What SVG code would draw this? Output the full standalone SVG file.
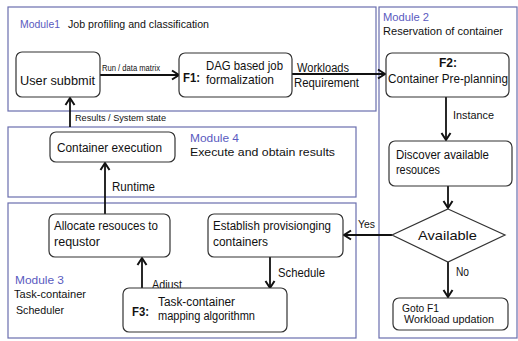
<svg xmlns="http://www.w3.org/2000/svg" width="518" height="341" viewBox="0 0 518 341">
<defs>
<marker id="arr" markerUnits="userSpaceOnUse" markerWidth="12" markerHeight="12" refX="9" refY="6" orient="auto">
<path d="M2,1.5 L9,6 L2,10.5" fill="none" stroke="#111" stroke-width="2"/>
</marker>
<style>
.mod{fill:none;stroke:#6a6eae;stroke-width:1.2}
.node{fill:#fff;stroke:#333;stroke-width:1.2}
.edge{fill:none;stroke:#111;stroke-width:1.8;marker-end:url(#arr)}
text{font-family:"Liberation Sans","DejaVu Sans",sans-serif;fill:#111}
.t{font-size:12px}
.tb{font-size:12px;font-weight:bold}
.lab{font-size:10px}
.sm{font-size:9px}
.ml{fill:#5a5ac0;font-size:11.5px}
.md{font-size:11.5px}
</style>
</defs>
<rect width="518" height="341" fill="#fff"/>
<g id="modules">
<rect id="module1" class="mod" x="8" y="7" width="368" height="104"/>
<rect id="module2" class="mod" x="379" y="7" width="138" height="331"/>
<rect id="module4" class="mod" x="8" y="127" width="348" height="70"/>
<rect id="module3" class="mod" x="8" y="203" width="348" height="135"/>
<text x="20" y="28" class="ml" textLength="40" lengthAdjust="spacingAndGlyphs">Module1</text>
<text x="68" y="28" class="md" textLength="141" lengthAdjust="spacingAndGlyphs">Job profiling and classification</text>
<text x="383" y="21" class="ml" textLength="46" lengthAdjust="spacingAndGlyphs">Module 2</text>
<text x="383" y="35" class="md" textLength="120" lengthAdjust="spacingAndGlyphs">Reservation of container</text>
<text x="190" y="142" class="ml" textLength="49" lengthAdjust="spacingAndGlyphs">Module 4</text>
<text x="190" y="156" class="md" textLength="145" lengthAdjust="spacingAndGlyphs">Execute and obtain results</text>
<text x="15" y="284" class="ml" textLength="49" lengthAdjust="spacingAndGlyphs">Module 3</text>
<text x="14" y="298" class="md" textLength="72" lengthAdjust="spacingAndGlyphs">Task-container</text>
<text x="16" y="314" class="md" textLength="48" lengthAdjust="spacingAndGlyphs">Scheduler</text>
</g>
<g id="connectors">
<line class="edge" x1="100" y1="75" x2="179" y2="75"/>
<line class="edge" x1="292" y1="74" x2="385" y2="74"/>
<line class="edge" x1="446" y1="97" x2="446" y2="140"/>
<line class="edge" x1="448" y1="186" x2="448" y2="208"/>
<line class="edge" x1="392" y1="235" x2="344" y2="235"/>
<line class="edge" x1="448" y1="262" x2="448" y2="297"/>
<line class="edge" x1="270" y1="257" x2="270" y2="288"/>
<line class="edge" x1="142" y1="288" x2="142" y2="258"/>
<line class="edge" x1="105" y1="214" x2="105" y2="163"/>
<line class="edge" x1="70" y1="127" x2="70" y2="98"/>
<text x="102" y="71" class="sm" textLength="58" lengthAdjust="spacingAndGlyphs">Run / data matrix</text>
<text x="297" y="72" class="t" textLength="52" lengthAdjust="spacingAndGlyphs">Workloads</text>
<text x="294" y="87" class="t" textLength="65" lengthAdjust="spacingAndGlyphs">Requirement</text>
<text x="453" y="119" class="lab" textLength="41" lengthAdjust="spacingAndGlyphs">Instance</text>
<text x="358" y="228" class="lab" textLength="17" lengthAdjust="spacingAndGlyphs">Yes</text>
<text x="456" y="276" class="t" textLength="13" lengthAdjust="spacingAndGlyphs">No</text>
<text x="278" y="277" class="t" textLength="47" lengthAdjust="spacingAndGlyphs">Schedule</text>
<text x="152" y="289" class="t" textLength="30" lengthAdjust="spacingAndGlyphs">Adjust</text>
<text x="112" y="191" class="t" textLength="43" lengthAdjust="spacingAndGlyphs">Runtime</text>
<text x="75" y="121" class="sm" textLength="91" lengthAdjust="spacingAndGlyphs">Results / System state</text>
</g>
<g id="user-submit">
<rect class="node" x="16" y="52" width="84" height="45" rx="6"/>
<text x="20" y="85" font-size="13" textLength="75" lengthAdjust="spacingAndGlyphs">User subbmit</text>
</g>
<g id="f1">
<rect class="node" x="179" y="53" width="113" height="44" rx="6"/>
<text x="183" y="82" class="tb" textLength="17" lengthAdjust="spacingAndGlyphs">F1:</text>
<text x="206" y="70" font-size="13" textLength="77" lengthAdjust="spacingAndGlyphs">DAG based job</text>
<text x="206" y="84" font-size="13" textLength="68" lengthAdjust="spacingAndGlyphs">formalization</text>
</g>
<g id="f2">
<rect class="node" x="386" y="53" width="123" height="44" rx="6"/>
<text x="448" y="67" class="tb" text-anchor="middle">F2:</text>
<text x="388" y="83" class="t" textLength="120" lengthAdjust="spacingAndGlyphs">Container Pre-planning</text>
</g>
<g id="container-execution">
<rect class="node" x="50" y="132" width="125" height="30" rx="6"/>
<text x="57" y="152" class="t" textLength="105" lengthAdjust="spacingAndGlyphs">Container execution</text>
</g>
<g id="discover">
<rect class="node" x="389" y="141" width="123" height="45" rx="6"/>
<text x="396" y="159" class="t" textLength="93" lengthAdjust="spacingAndGlyphs">Discover available</text>
<text x="396" y="174" class="t" textLength="44" lengthAdjust="spacingAndGlyphs">resouces</text>
</g>
<g id="available">
<polygon class="node" points="448,209 505,235 448,262 392,235"/>
<text x="418" y="240" font-size="13" textLength="59" lengthAdjust="spacingAndGlyphs">Available</text>
</g>
<g id="goto-f1">
<rect class="node" x="393" y="298" width="115" height="32" rx="6"/>
<text x="402" y="312" class="lab" textLength="37" lengthAdjust="spacingAndGlyphs">Goto F1</text>
<text x="404" y="323" class="lab" textLength="90" lengthAdjust="spacingAndGlyphs">Workload updation</text>
</g>
<g id="allocate">
<rect class="node" x="49" y="214" width="121" height="43" rx="6"/>
<text x="54" y="230" class="t" textLength="104" lengthAdjust="spacingAndGlyphs">Allocate resouces to</text>
<text x="54" y="246" class="t" textLength="46" lengthAdjust="spacingAndGlyphs">requstor</text>
</g>
<g id="establish">
<rect class="node" x="208" y="214" width="135" height="43" rx="6"/>
<text x="213" y="230" class="t" textLength="118" lengthAdjust="spacingAndGlyphs">Establish provisionging</text>
<text x="213" y="246" class="t" textLength="55" lengthAdjust="spacingAndGlyphs">containers</text>
</g>
<g id="f3">
<rect class="node" x="123" y="288" width="164" height="44" rx="6"/>
<text x="132" y="316" class="tb" textLength="17" lengthAdjust="spacingAndGlyphs">F3:</text>
<text x="158" y="306" class="t" textLength="77" lengthAdjust="spacingAndGlyphs">Task-container</text>
<text x="158" y="320" class="t" textLength="97" lengthAdjust="spacingAndGlyphs">mapping algorithmn</text>
</g>
</svg>
